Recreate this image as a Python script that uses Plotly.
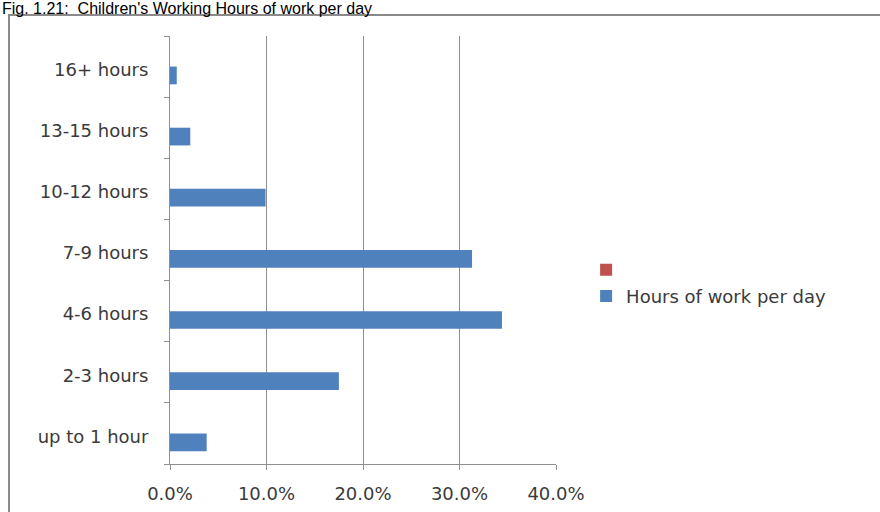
import plotly.graph_objects as go

categories = ["up to 1 hour", "2-3 hours", "4-6 hours", "7-9 hours", "10-12 hours", "13-15 hours", "16+ hours"]
hours_values = [3.8, 17.5, 34.4, 31.3, 9.9, 2.1, 0.7]
empty_values = [None] * len(categories)
x_ticks = [0, 10, 20, 30, 40]
x_tick_labels = ["0.0%", "10.0%", "20.0%", "30.0%", "40.0%"]
title_text = "Fig. 1.21:  Children's Working Hours of work per day"

# plot area in page pixels
L, R, T, B = 170, 324, 36, 48
W, H = 880, 512
PW, PH = W - L - R, H - T - B

def px(xf):
    return (xf - L) / PW

def py(yf):
    return (H - B - yf) / PH

fig = go.Figure()
fig.add_trace(go.Bar(
    y=categories, x=hours_values, orientation="h",
    name="Hours of work per day", marker=dict(color="#4F81BD", line=dict(width=0)),
    legendrank=2,
))
fig.add_trace(go.Bar(
    y=categories, x=empty_values, orientation="h",
    name=" ", marker=dict(color="#C0504D", line=dict(width=0)),
    legendrank=1,
))

tick_font = dict(family="DejaVu Sans, sans-serif", size=18, color="#3a3a3a")

fig.update_layout(
    width=W, height=H,
    margin=dict(l=L, r=R, t=T, b=B, autoexpand=False),
    paper_bgcolor="white", plot_bgcolor="white",
    barmode="group", bargap=0.42, bargroupgap=0,
    font=tick_font,
    showlegend=True,
    legend=dict(x=1.078, xanchor="left", y=0.4965, yanchor="top",
                font=dict(family="DejaVu Sans, sans-serif", size=18, color="#3a3a3a"),
                bgcolor="rgba(0,0,0,0)", itemwidth=30),
    xaxis=dict(range=[0, 40], tickvals=x_ticks, ticktext=x_tick_labels,
               showgrid=True, gridcolor="#8f8f8f", gridwidth=1,
               showline=True, linecolor="#8f8f8f", ticks="outside", ticklen=5,
               tickcolor="#8f8f8f", zeroline=False, fixedrange=True,
               ticklabelstandoff=8, tickfont=tick_font, automargin=False),
    yaxis=dict(type="category", categoryorder="array", categoryarray=categories,
               showgrid=False, showline=True, linecolor="#8f8f8f",
               ticks="outside", ticklen=5, tickcolor="#8f8f8f", tickson="boundaries",
               fixedrange=True, ticklabelstandoff=17, ticklabelshift=3,
               tickfont=tick_font, automargin=False),
    shapes=[dict(type="rect", xref="paper", yref="paper",
                 x0=px(9), x1=px(W + 10),
                 y0=py(H + 10), y1=py(15),
                 line=dict(color="#8a8a8a", width=2), fillcolor="rgba(0,0,0,0)", layer="below")],
    annotations=[dict(text=title_text, xref="paper", yref="paper",
                      x=px(0), y=py(19), xanchor="left", yanchor="bottom",
                      showarrow=False, font=dict(family="Arial, Liberation Sans", size=16, color="#000000"))],
)

fig.write_html("out.html", config={"displayModeBar": False},
               post_script="document.body.style.margin='0px';")
